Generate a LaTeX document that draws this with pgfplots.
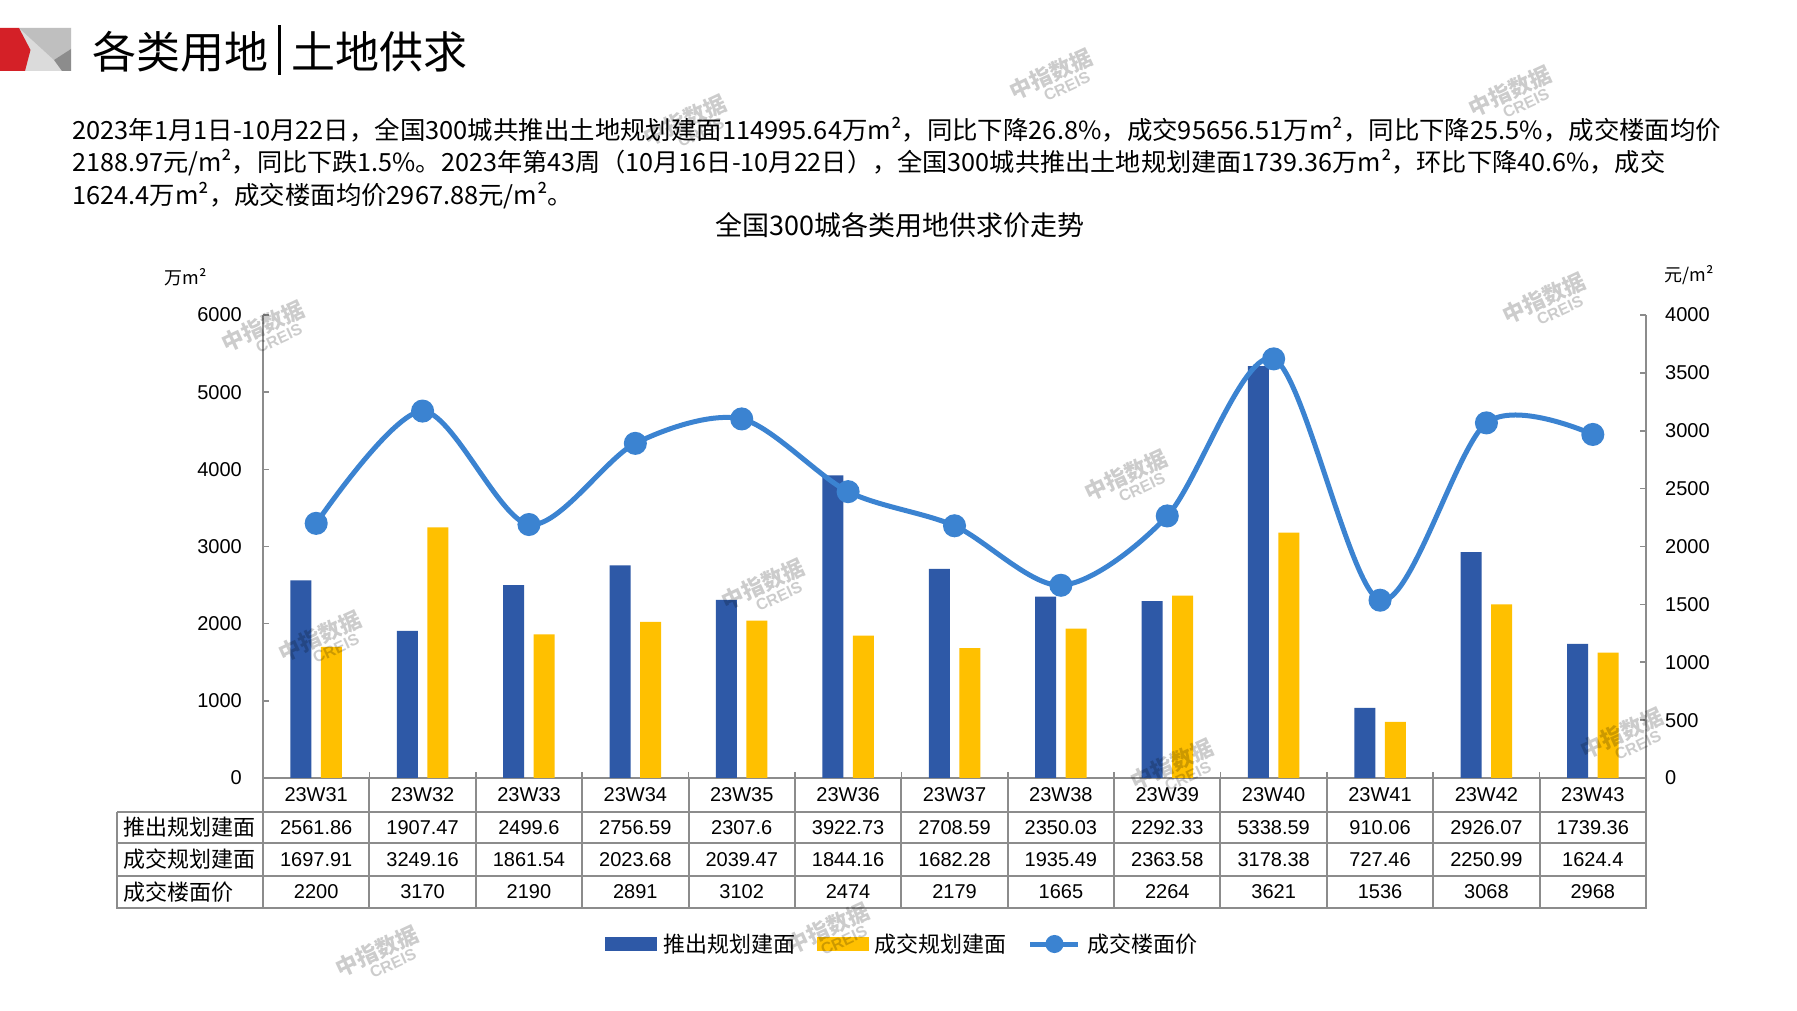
\documentclass[border=0pt]{standalone}
\usepackage{fontspec}
\setmainfont{Liberation Sans}
\newfontfamily\cjk{Noto Sans CJK SC}
\usepackage{graphicx}
\usepackage{pgfplots}
\usepackage{pgfplotstable}
\pgfplotsset{compat=1.18}
\definecolor{barblue}{HTML}{2E59A7}
\definecolor{baryellow}{HTML}{FFC000}
\definecolor{lineblue}{HTML}{3B83D1}
\definecolor{axgray}{HTML}{8C8C8C}
\definecolor{logored}{HTML}{D42027}

\pgfplotstableread{
idx week push deal price
0 23W31 2561.86 1697.91 2200
1 23W32 1907.47 3249.16 3170
2 23W33 2499.6 1861.54 2190
3 23W34 2756.59 2023.68 2891
4 23W35 2307.6 2039.47 3102
5 23W36 3922.73 1844.16 2474
6 23W37 2708.59 1682.28 2179
7 23W38 2350.03 1935.49 1665
8 23W39 2292.33 2363.58 2264
9 23W40 5338.59 3178.38 3621
10 23W41 910.06 727.46 1536
11 23W42 2926.07 2250.99 3068
12 23W43 1739.36 1624.4 2968
}\datatable

\newcommand{\wm}[2]{\node[rotate=25, text=black, text opacity=0.2, align=center, inner sep=0pt, font=\bfseries] at (#1,#2) {{\cjk\fontsize{22}{24}\selectfont 中指数据}\\[1pt]\hspace*{18pt}{\fontsize{16}{17}\selectfont CREIS}};}

\begin{document}
\begin{tikzpicture}[x=1pt,y=1pt]
\useasboundingbox (0,0) rectangle (1797,1010);
\fill[white] (0,0) rectangle (1797,1010);
% logo
\fill[black!14] (0,939) rectangle (71,982);
\fill[black!25] (19,982) -- (71,982) -- (71,961) -- (54,950) -- cycle;
\fill[black!45] (71,961) -- (71,939) -- (62,939) -- (54,950) -- cycle;
\fill[logored] (0,982) -- (19,982) -- (30.5,960) -- (25,939) -- (0,939) -- cycle;
% header title
\node[anchor=west, inner sep=0pt] at (92,960) {\cjk\fontsize{44}{44}\selectfont 各类用地\hspace{10pt}\rule[-0.13em]{3pt}{1.12em}\hspace{10pt}土地供求};
% paragraph
\node[anchor=west, inner sep=0pt] at (72,880.5) {\resizebox{1649pt}{\height}{\cjk\fontsize{25}{30}\selectfont 2023年1月1日-10月22日，全国300城共推出土地规划建面114995.64万m²，同比下降26.8\%，成交95656.51万m²，同比下降25.5\%，成交楼面均价}};
\node[anchor=west, inner sep=0pt] at (72,847.3) {\resizebox{1593pt}{\height}{\cjk\fontsize{25}{30}\selectfont 2188.97元/m²，同比下跌1.5\%。2023年第43周（10月16日-10月22日），全国300城共推出土地规划建面1739.36万m²，环比下降40.6\%，成交}};
\node[anchor=west, inner sep=0pt] at (72,814) {\resizebox{501pt}{\height}{\cjk\fontsize{25}{30}\selectfont 1624.4万m²，成交楼面均价2967.88元/m²。}};
% chart title and units
\node at (900,785) {\cjk\fontsize{27}{30}\selectfont 全国300城各类用地供求价走势};
\node at (186,733) {\cjk\fontsize{18}{20}\selectfont 万m²};
\node at (1689,735) {\cjk\fontsize{18}{20}\selectfont 元/m²};

\begin{axis}[
  at={(263pt,232pt)}, anchor=south west,
  scale only axis, width=1383pt, height=463pt,
  xmin=-0.5, xmax=12.5, ymin=0, ymax=6000,
  axis x line*=bottom, axis y line*=left,
  ybar=9.5pt, bar width=21pt,
  xtick={0.5,1.5,...,11.5}, xticklabels={},
  ytick={0,1000,...,6000},
  tick align=inside, major tick length=6pt,
  axis line style={draw=axgray, line width=2pt},
  tick style={draw=axgray, line width=1.6pt},
  tick label style={font=\fontsize{20}{24}\selectfont},
  yticklabel style={inner sep=0pt, xshift=-21pt},
  /pgf/number format/assume math mode=true,
  /pgf/number format/1000 sep={},
  clip=false,
]
\addplot[fill=barblue, draw=none] table[x=idx, y=push] {\datatable};
\addplot[fill=baryellow, draw=none] table[x=idx, y=deal] {\datatable};
\end{axis}

\begin{axis}[
  at={(263pt,232pt)}, anchor=south west,
  scale only axis, width=1383pt, height=463pt,
  xmin=-0.5, xmax=12.5, ymin=0, ymax=4000,
  axis x line=none, axis y line*=right,
  ytick={0,500,...,4000},
  tick align=inside, major tick length=6pt,
  axis line style={draw=axgray, line width=2pt},
  tick style={draw=axgray, line width=1.6pt},
  tick label style={font=\fontsize{20}{24}\selectfont},
  yticklabel style={inner sep=0pt, xshift=19pt},
  /pgf/number format/assume math mode=true,
  /pgf/number format/1000 sep={},
  clip=false,
  legend columns=3,
  legend cell align=left,
  legend style={at={(0.24729,-0.35853)}, anchor=west, draw=none, fill=none,
    inner sep=0pt, nodes={inner sep=0pt},
    font=\cjk\fontsize{22}{24}\selectfont,
    /tikz/every odd column/.append style={column sep=7pt},
    /tikz/every even column/.append style={column sep=21pt}},
]
\addlegendimage{legend image code/.code={\fill[barblue] (0pt,-6.5pt) rectangle (51pt,6.5pt);}}
\addlegendentry{推出规划建面}
\addlegendimage{legend image code/.code={\fill[baryellow] (0pt,-6.5pt) rectangle (51pt,6.5pt);}}
\addlegendentry{成交规划建面}
\addplot[smooth, lineblue, line width=5pt, mark=*, mark size=9pt,
  mark options={solid, fill=lineblue, draw=none},
  legend image code/.code={\draw[lineblue, line width=5pt] (0pt,0pt) -- (48pt,0pt); \fill[lineblue] (24pt,0pt) circle (6.5pt);}]
  table[x=idx, y=price] {\datatable};
\addlegendentry{成交楼面价}
\end{axis}

% data table below the axis
\begin{scope}[axgray, line width=2pt]
\draw (117,198.3) -- (1646,198.3);
\draw (117,167) -- (1646,167);
\draw (117,134.3) -- (1646,134.3);
\draw (116,102.3) -- (1647,102.3);
\draw (117,198.3) -- (117,101.3);
\foreach \k in {0,...,13} {\draw ({263+106.385*\k},233) -- ({263+106.385*\k},101.3);}
\end{scope}
\node[anchor=west, inner sep=0pt] at (123,182.5) {\cjk\fontsize{22}{24}\selectfont 推出规划建面};
\node[anchor=west, inner sep=0pt] at (123,150.5) {\cjk\fontsize{22}{24}\selectfont 成交规划建面};
\node[anchor=west, inner sep=0pt] at (123,118) {\cjk\fontsize{22}{24}\selectfont 成交楼面价};
\foreach \i in {0,...,12} {
  \pgfplotstablegetelem{\i}{week}\of\datatable \edef\cw{\pgfplotsretval}
  \pgfplotstablegetelem{\i}{push}\of\datatable \edef\ca{\pgfplotsretval}
  \pgfplotstablegetelem{\i}{deal}\of\datatable \edef\cb{\pgfplotsretval}
  \pgfplotstablegetelem{\i}{price}\of\datatable \edef\cp{\pgfplotsretval}
  \pgfmathsetmacro\cx{316.19+106.385*\i}
  \node[font=\fontsize{20}{24}\selectfont] at (\cx,215) {\cw};
  \node[font=\fontsize{20}{24}\selectfont] at (\cx,182.5) {\ca};
  \node[font=\fontsize{20}{24}\selectfont] at (\cx,150.5) {\cb};
  \node[font=\fontsize{20}{24}\selectfont] at (\cx,118) {\cp};
}
% watermarks
\wm{1054}{930}
\wm{1513}{913}
\wm{688}{884}
\wm{266}{678}
\wm{1547}{706}
\wm{1129}{529}
\wm{766}{420}
\wm{323}{368}
\wm{1175}{240}
\wm{1625}{271}
\wm{380}{53}
\wm{831}{76}
\end{tikzpicture}
\end{document}
